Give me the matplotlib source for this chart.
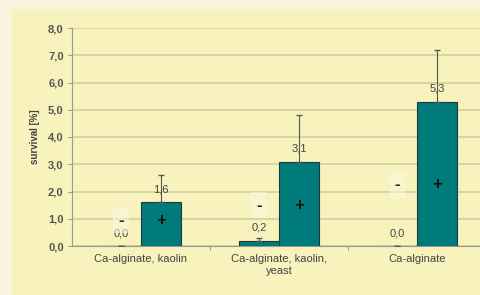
import numpy as np
import matplotlib
matplotlib.use('Agg')
import matplotlib.pyplot as plt
from matplotlib.patches import Rectangle

plt.rcParams['font.family'] = ['Liberation Sans', 'DejaVu Sans']

categories = ['Ca-alginate, kaolin', 'Ca-alginate, kaolin,\nyeast', 'Ca-alginate']
minus_vals = [0.0, 0.2, 0.0]
plus_vals = [1.6, 3.1, 5.3]
minus_err = [0.0, 0.1, 0.0]
plus_err = [1.0, 1.7, 1.9]
minus_labels = ['0,0', '0,2', '0,0']
plus_labels = ['1,6', '3,1', '5,3']
sign_y = [0.95, 1.5, 2.25]
yticks = [0, 1, 2, 3, 4, 5, 6, 7, 8]
ytick_labels = ['0,0', '1,0', '2,0', '3,0', '4,0', '5,0', '6,0', '7,0', '8,0']

teal = '#007b7b'
fig = plt.figure(figsize=(4.8, 2.95), dpi=100)
fig.patch.set_facecolor('#fbf4de')
fig.patches.append(Rectangle((12 / 480, 0), 1, 1 - 9 / 295, transform=fig.transFigure,
                             facecolor='#f8f2bc', edgecolor='none', zorder=-5))

ax = fig.add_axes([72 / 480, 49 / 295, 414 / 480, 218 / 295])
ax.set_facecolor('none')
ax.set_zorder(2)

x = np.arange(len(categories))
w = 0.29
ax.bar(x - w / 2, minus_vals, w, color=teal, edgecolor='#203a3a', linewidth=0.8, zorder=3)
ax.bar(x + w / 2, plus_vals, w, color=teal, edgecolor='#203a3a', linewidth=0.8, zorder=3)
ax.errorbar(x - w / 2, minus_vals, yerr=[np.zeros(3), minus_err], fmt='none',
            ecolor='#555555', elinewidth=0.8, capsize=2, zorder=4)
ax.errorbar(x + w / 2, plus_vals, yerr=[np.zeros(3), plus_err], fmt='none',
            ecolor='#555555', elinewidth=0.8, capsize=2, zorder=4)

for i in range(len(categories)):
    ax.text(x[i] - w / 2, minus_vals[i] + 0.28, minus_labels[i], ha='center', va='bottom',
            fontsize=8, color='#444444', zorder=5)
    ax.text(x[i] + w / 2, plus_vals[i] + 0.28, plus_labels[i], ha='center', va='bottom',
            fontsize=8, color='#444444', zorder=5)
    ax.text(x[i] - w / 2, sign_y[i], '-', ha='center', va='center', fontsize=12,
            fontweight='bold', color='#222222', zorder=5,
            bbox=dict(facecolor='#fcf9e4', edgecolor='none', pad=4, alpha=0.55))
    ax.text(x[i] + w / 2, sign_y[i], '+', ha='center', va='center', fontsize=12,
            fontweight='bold', color='#111111', zorder=5)

ax.set_xlim(-0.5, 2.5)
ax.set_ylim(0, 8)
ax.set_yticks(yticks)
ax.set_yticklabels(ytick_labels, fontsize=8, fontweight='bold', color='#555555')
ax.set_xticks([0.5, 1.5])
ax.set_xticklabels([])
ax.set_xticks(x, minor=True)
ax.set_xticklabels(categories, minor=True, fontsize=8, color='#444444')
ax.tick_params(axis='x', which='minor', length=0, pad=6)
ax.tick_params(axis='x', which='major', length=3, color='#999999')
ax.tick_params(axis='y', length=3, color='#999999', pad=3)
ax.yaxis.grid(True, color='#d2cea2', linewidth=1.2, zorder=0)
ax.set_axisbelow(True)
for s in ['top', 'right']:
    ax.spines[s].set_visible(False)
ax.spines['left'].set_color('#999999')
ax.spines['bottom'].set_color('#999999')
ax.set_ylabel('survival [%]', fontsize=7, fontweight='bold', color='#444444', labelpad=6)

fig.savefig('out.png', dpi=100, facecolor=fig.get_facecolor())
